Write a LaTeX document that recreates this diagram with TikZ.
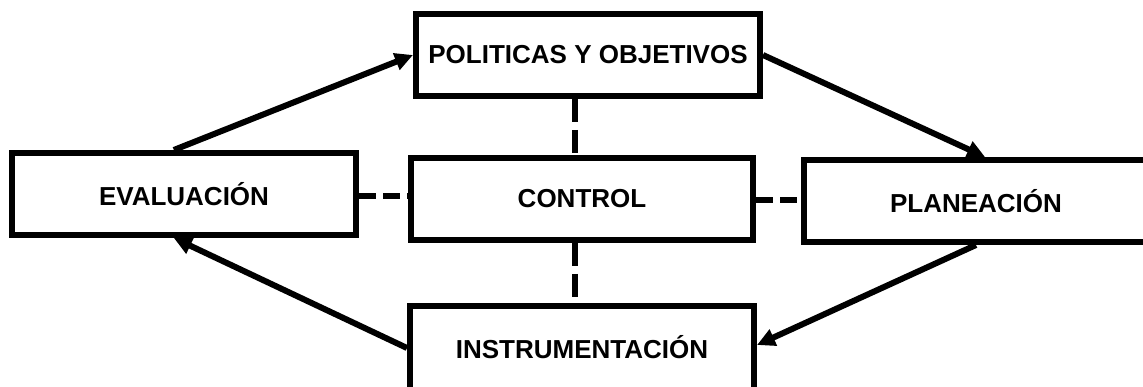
\documentclass[tikz,border=0pt]{standalone}
\usepackage{fontspec}
\setmainfont{Liberation Sans}
\usetikzlibrary{arrows.meta,calc}
\begin{document}
\begin{tikzpicture}[x=1pt,y=-1pt,
  box/.style={draw=black, line width=6pt, minimum width=344pt, minimum height=82pt, inner sep=0pt, font=\fontsize{26}{30}\selectfont\bfseries},
  lbl/.style={inner sep=0pt, font=\fontsize{26}{30}\selectfont\bfseries},
  arr/.style={line width=6pt, -{Triangle[length=18pt,width=17pt]}},
  dshh/.style={line width=6.5pt, dash pattern=on 17pt off 7pt},
  dshv/.style={line width=6.5pt, dash pattern=on 23pt off 8pt}]
\useasboundingbox (0,0) rectangle (1143,387);
\fill[white] (0,0) rectangle (1143,387);
\clip (0,0) rectangle (1143,387);
\node[box] (pol) at (588,55) {POLITICAS Y OBJETIVOS};
\node[box] (eval) at (184,194) {EVALUACIÓN};
\node[box, minimum width=342pt] (ctrl) at (582,199) {CONTROL};
\node[box] (plan) at (976,201) {PLANEACIÓN};
\node[box, minimum height=94pt] (inst) at (582,353) {};
\node[lbl] (instt) at (582,347) {INSTRUMENTACIÓN};
\coordinate (vx) at (575,0);
% dashed links
\draw[dshh] ($(eval.east)+(0,2)$) -- ($(ctrl.west)+(0,-3)$);
\draw[dshh] ($(ctrl.east)+(0,1)$) -- ($(plan.west)+(0,-1)$);
\draw[dshv] (pol.south -| vx) -- (ctrl.north -| vx);
\draw[dshv] (ctrl.south -| vx) -- (inst.north -| vx);
% arrows
\draw[arr] ($(eval.north west)!0.471!(eval.north east)$) -- (pol.west);
\draw[arr] (pol.east) -- ($(plan.north west)!0.526!(plan.north east)$);
\draw[arr] (plan.south) -- ($(inst.east)+(0,-8)$);
\draw[arr] ($(inst.west)+(0,-5)$) -- ($(eval.south west)!0.471!(eval.south east)$);
\end{tikzpicture}
\end{document}
